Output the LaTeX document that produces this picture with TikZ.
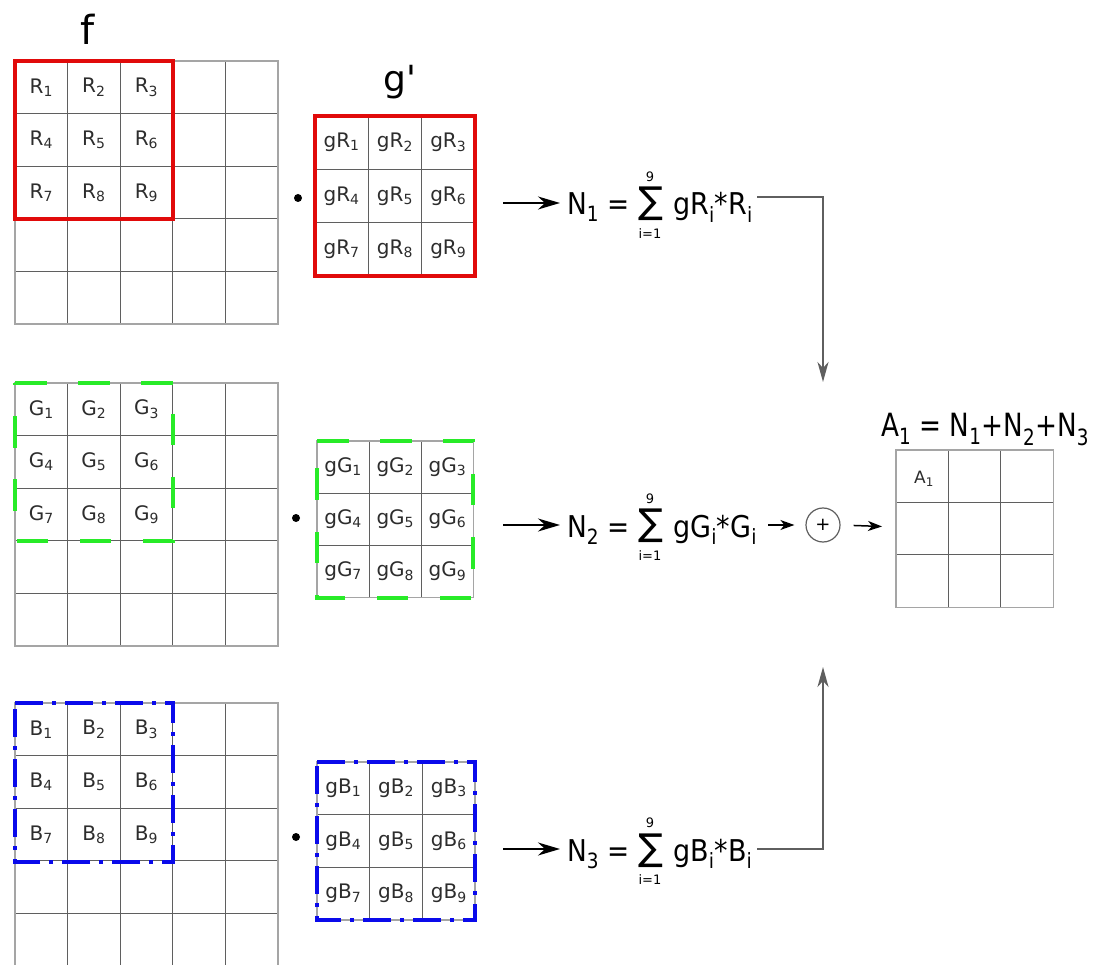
\documentclass[tikz,border=0pt]{standalone}
\usepackage{fontspec}
\setmainfont{DejaVu Sans}
\usetikzlibrary{arrows.meta}
\definecolor{rred}{RGB}{225,10,10}
\definecolor{ggreen}{RGB}{40,235,40}
\definecolor{bblue}{RGB}{10,10,235}
\definecolor{txt}{RGB}{45,45,45}
\definecolor{gin}{RGB}{95,95,95}
\definecolor{gout}{RGB}{165,165,165}
\newcommand\sbs[1]{\textsubscript{#1}}
\newcommand\fs[1]{\fontsize{#1}{#1}\selectfont}
\newcommand\hsq[2]{\scalebox{#1}[1]{#2}}
\begin{document}
\begin{tikzpicture}[x=1pt,y=-1pt,
  inline/.style={line width=1.3pt,draw=gin},
  outline/.style={line width=1.3pt,draw=gout},
  cell/.style={inner sep=0pt,text=txt,font=\fs{20}},
  ftext/.style={inner sep=0pt,text=black,font=\fs{30}},
  lim/.style={inner sep=0pt,text=black,font=\fs{13}},
  sigma/.style={inner sep=0pt,text=black,font=\fs{37},text height=24pt,text depth=4pt},
  big/.style={inner sep=0pt,text=black},
  redbox/.style={draw=rred,line width=4pt},
  greenbox/.style={draw=ggreen,line width=4pt,dash pattern=on 31.5pt off 31.5pt},
  bluebox/.style={draw=bblue,line width=4pt,dash pattern=on 28pt off 9pt on 4pt off 9pt},
  mainarrow/.style={line width=1.8pt,-{Stealth[length=22pt,width=13pt,inset=7pt]}},
  smallarrow/.style={line width=1.5pt,-{Stealth[length=14pt,width=10pt,inset=4pt]}},
  conn/.style={line width=1.8pt,draw=gin,-{Stealth[length=20pt,width=11pt,inset=6pt]}},
  dotnode/.style={circle,fill=black,inner sep=0pt,minimum size=8pt}
]
\useasboundingbox (0,0) rectangle (1101,965);
\fill[white] (0,0) rectangle (1101,965);

% ---------- 5x5 input grids ----------
\foreach \g/\Y in {1/61,2/383,3/703}{
  \foreach \k in {1,...,4}{
    \draw[inline] ({15+\k*52.6},\Y) -- ++(0,263);
    \draw[inline] (15,{\Y+\k*52.6}) -- ++(263,0);
  }
  \draw[outline] (15,\Y) rectangle ++(263,263);
}
% ---------- 3x3 kernel grids ----------
\foreach \g/\X/\Y/\s in {1/315/116/53.3,2/317/441/52.2,3/317/762/52.7}{
  \foreach \k in {1,2}{
    \draw[inline] ({\X+\k*\s},\Y) -- ++(0,{3*\s});
    \draw[inline] (\X,{\Y+\k*\s}) -- ++({3*\s},0);
  }
  \draw[outline] (\X,\Y) rectangle ++({3*\s},{3*\s});
}

% ---------- cell labels ----------
\foreach \c/\Y/\gX/\gY/\s in {R/61/315/116/53.3,G/383/317/441/52.2,B/703/317/762/52.7}{
  \foreach \i in {0,1,2}{
    \foreach \j in {0,1,2}{
      \pgfmathtruncatemacro\n{3*\i+\j+1}
      \node[cell] (f\c\n) at ({15+(\j+0.5)*52.6},{\Y+(\i+0.5)*52.6}) {\c\sbs{\n}};
      \node[cell] (k\c\n) at ({\gX+(\j+0.5)*\s},{\gY+(\i+0.5)*\s}) {g\c\sbs{\n}};
    }
  }
}

% ---------- coloured windows ----------
\draw[redbox] (15,61) rectangle (173,219);
\draw[redbox] (315,116) rectangle (475,276);
\draw[greenbox] (15,383) -- (173,383) -- (173,541) -- (15,541) -- cycle;
\draw[greenbox] (317,441) -- (473,441) -- (473,598) -- (317,598) -- cycle;
\draw[bluebox] (15,703) -- (173,703) -- (173,862) -- (15,862) -- cycle;
\draw[bluebox] (317,762) -- (475,762) -- (475,920) -- (317,920) -- cycle;

% ---------- titles ----------
\node[big,font=\fs{40},anchor=base] (ftitle) at (88,45) {f};
\node[big,font=\fs{36},anchor=base] (gtitle) at (400,92) {g\textquotesingle};

% ---------- dots ----------
\node[dotnode] (d1) at (298,198) {};
\node[dotnode] (d2) at (296,518) {};
\node[dotnode] (d3) at (296,837) {};

% ---------- formulas ----------
\foreach \r/\Y/\c in {1/203/R,2/525/G,3/849/B}{
  \coordinate (in\r) at (503,\Y);
  \node[ftext,anchor=base west] (N\r) at (567,{\Y+12}) {\hsq{0.88}{N\sbs{\r} =}};
  \node[sigma,anchor=base] (S\r) at (651,{\Y+11}) {∑};
  \node[lim] (up\r) at (650,{\Y-26}) {9};
  \node[lim] (lo\r) at (650,{\Y+31}) {i=1};
  \node[ftext,anchor=base west] (P\r) at (673,{\Y+12}) {\hsq{0.9}{g\c\sbs{i}*\c\sbs{i}}};
  \draw[mainarrow,shorten >=7pt] (in\r) -- (in\r -| N\r.west);
}

% ---------- plus and result ----------
\node[circle,draw=gin,line width=1.2pt,minimum size=34pt,inner sep=0pt,font=\fs{18}] (plus) at (823,525) {+};
\coordinate (Aw) at (896,527);
\draw[smallarrow,shorten <=11pt,shorten >=11pt] (P2.east |- plus.west) -- (plus.west);
\draw[smallarrow,shorten <=13pt,shorten >=14pt] (plus.east) -- (Aw);

\coordinate (L1) at (757,197);
\coordinate (T1) at (823,382);
\coordinate (L3) at (757,849);
\coordinate (T3) at (823,667);
\draw[conn] (L1) -| (T1);
\draw[conn] (L3) -| (T3);

% result grid
\foreach \k in {1,2}{
  \draw[inline] ({896+\k*52.4},450) -- ++(0,157.2);
  \draw[inline] (896,{450+\k*52.4}) -- ++(157.2,0);
}
\draw[outline] (896,450) rectangle ++(157.2,157.2);
\node[cell,font=\fs{17}] (A1) at (924,479) {A\sbs{1}};
\node[ftext,font=\fs{32},anchor=base] (Atitle) at (985,437) {\hsq{0.82}{A\sbs{1} = N\sbs{1}+N\sbs{2}+N\sbs{3}}};
\end{tikzpicture}
\end{document}
